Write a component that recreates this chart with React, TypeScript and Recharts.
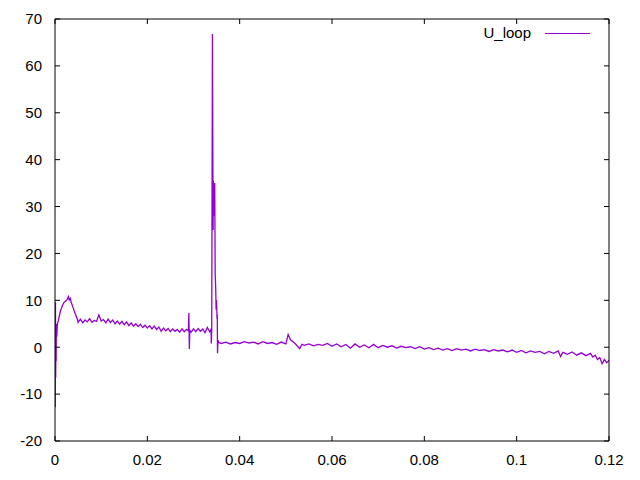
import { LineChart, Line, XAxis, YAxis } from "recharts";

// [time (s), U_loop]
const startSamples: [number, number][] = [
  [0, 4.2], [0.00005, -12.8], [0.0001, 9.6], [0.00015, -6.5], [0.0002, 2.5],
  [0.00025, -3], [0.0003, 5], [0.0004, 2.3], [0.0005, 4.8], [0.0007, 5.6],
  [0.0009, 6.5], [0.0012, 7.8], [0.0016, 8.9], [0.002, 9.6], [0.0024, 9.9],
  [0.0027, 10.3], [0.0029, 10.8], [0.0031, 10.1], [0.0033, 10.4], [0.0035, 9.6],
  [0.0039, 8.5], [0.0042, 7.6], [0.0046, 6.6], [0.0049, 5.8],
];

const plateauSamples: [number, number][] = [
  [0.005, 5.3], [0.0055, 6.0], [0.006, 5.2], [0.0065, 5.8], [0.007, 5.4],
  [0.0075, 6.1], [0.008, 5.3], [0.0085, 5.7], [0.009, 5.5], [0.0095, 6.9],
  [0.01, 5.6], [0.0105, 5.9], [0.011, 5.2], [0.0115, 6.0], [0.012, 5.3],
  [0.0125, 5.8], [0.013, 5.0], [0.0135, 5.6], [0.014, 4.9], [0.0145, 5.5],
  [0.015, 4.8], [0.0155, 5.4], [0.016, 4.6], [0.0165, 5.2], [0.017, 4.5],
  [0.0175, 5.0], [0.018, 4.4], [0.0185, 4.9], [0.019, 4.2], [0.0195, 4.7],
  [0.02, 4.1], [0.0205, 4.6], [0.021, 3.9], [0.0215, 4.5], [0.022, 3.8],
  [0.0225, 4.3], [0.023, 3.4], [0.0235, 4.1], [0.024, 3.5], [0.0245, 4.0],
  [0.025, 3.3], [0.0255, 3.9], [0.026, 3.4], [0.0265, 3.8], [0.027, 3.2],
  [0.0275, 3.9], [0.028, 3.3], [0.0285, 3.8], [0.0289, 3.5], [0.029, 7.3],
  [0.0291, -0.4], [0.0292, 3.6], [0.0295, 3.2], [0.03, 3.9], [0.0305, 3.3],
  [0.031, 4.0], [0.0315, 3.4], [0.032, 3.9], [0.0325, 3.1], [0.033, 4.2],
  [0.0335, 3.3], [0.0338, 3.8],
];

const spikeSamples: [number, number][] = [
  [0.03385, 0.8], [0.03395, 3.5], [0.0341, 66.8], [0.03425, 25], [0.0343, 35.5],
  [0.03445, 28], [0.0346, 35], [0.0347, 15.5], [0.0348, 13], [0.0349, 8],
  [0.035, 10], [0.0351, 6], [0.03515, 7], [0.0352, -1.3], [0.0353, 1.5],
  [0.0355, 1.0],
];

const tailSamples: [number, number][] = [
  [0.036, 0.8], [0.037, 1.1], [0.038, 0.7], [0.039, 1.0], [0.04, 0.8],
  [0.041, 1.2], [0.042, 0.9], [0.043, 1.1], [0.044, 0.7], [0.045, 1.2],
  [0.046, 0.8], [0.047, 1.0], [0.048, 0.6], [0.049, 1.1], [0.05, 0.7],
  [0.0505, 2.7], [0.051, 1.6], [0.052, 0.8], [0.053, -0.3], [0.0535, 0.6],
  [0.054, 0.4], [0.055, 0.7], [0.056, 0.3], [0.057, 0.6], [0.058, 0.4],
  [0.059, 0.8], [0.06, 0.2], [0.061, 0.7], [0.062, 0.1], [0.063, 0.6],
  [0.064, -0.2], [0.065, 0.7], [0.066, 0.0], [0.067, 0.5], [0.068, -0.1],
  [0.069, 0.6], [0.07, -0.1], [0.071, 0.4], [0.072, 0.0], [0.073, 0.3],
  [0.074, -0.2], [0.075, 0.2], [0.076, -0.1], [0.077, 0.1], [0.078, -0.3],
  [0.079, 0.1], [0.08, -0.4], [0.081, -0.1], [0.082, -0.5], [0.083, -0.2],
  [0.084, -0.6], [0.085, -0.3], [0.086, -0.7], [0.087, -0.3], [0.088, -0.6],
  [0.089, -0.4], [0.09, -0.8], [0.091, -0.4], [0.092, -0.7], [0.093, -0.5],
  [0.094, -0.9], [0.095, -0.5], [0.096, -0.8], [0.097, -0.6], [0.098, -1.0],
  [0.099, -0.6], [0.1, -1.1], [0.101, -0.7], [0.102, -1.2], [0.103, -0.8],
  [0.104, -1.1], [0.105, -0.9], [0.106, -1.4], [0.107, -0.9], [0.108, -1.3],
  [0.109, -0.8], [0.1095, -2.0], [0.11, -1.1], [0.111, -1.5], [0.112, -1.0],
  [0.113, -1.7], [0.114, -1.2], [0.115, -1.8], [0.116, -1.3], [0.1165, -2.1],
  [0.117, -1.7], [0.1175, -2.6], [0.118, -2.2], [0.1185, -3.5], [0.119, -2.6],
  [0.1195, -3.3], [0.12, -2.8],
];

const xTicks = [0, 0.02, 0.04, 0.06, 0.08, 0.1, 0.12];
const yTicks = [-20, -10, 0, 10, 20, 30, 40, 50, 60, 70];
const seriesName = "U_loop";
const lineColor = "#9400d3";

const data = [...startSamples, ...plateauSamples, ...spikeSamples, ...tailSamples].map(
  ([t, u]) => ({ t, u })
);

const font = "'Liberation Sans', Arial, sans-serif";
const noLabel = () => "";

export default function App() {
  return (
    <div
      style={{
        position: "absolute",
        left: 0,
        top: 0,
        width: 640,
        height: 480,
        background: "#fff",
        fontFamily: font,
      }}
    >
      <LineChart
        width={640}
        height={480}
        data={data}
        margin={{ top: 18, right: 30, left: 0, bottom: 0 }}
        style={{ fontFamily: font }}
      >
        <XAxis
          dataKey="t"
          type="number"
          domain={[0, 0.12]}
          ticks={xTicks}
          interval={0}
          height={39}
          tickSize={-5}
          tickMargin={18}
          stroke="#000"
          tick={{ fill: "#000", fontSize: 15 }}
          allowDataOverflow
        />
        <XAxis
          xAxisId="top"
          orientation="top"
          dataKey="t"
          type="number"
          domain={[0, 0.12]}
          ticks={xTicks}
          interval={0}
          height={1}
          tickSize={-5}
          tickFormatter={noLabel}
          stroke="#000"
          allowDataOverflow
        />
        <YAxis
          type="number"
          domain={[-20, 70]}
          ticks={yTicks}
          interval={0}
          width={55}
          tickSize={-5}
          tickMargin={18}
          stroke="#000"
          tick={{ fill: "#000", fontSize: 15 }}
          allowDataOverflow
        />
        <YAxis
          yAxisId="right"
          orientation="right"
          type="number"
          domain={[-20, 70]}
          ticks={yTicks}
          interval={0}
          width={1}
          tickSize={-5}
          tickFormatter={noLabel}
          stroke="#000"
          allowDataOverflow
        />
        <Line
          type="linear"
          dataKey="u"
          name={seriesName}
          stroke={lineColor}
          strokeWidth={1.3}
          dot={false}
          activeDot={false}
          isAnimationActive={false}
        />
        <Line
          xAxisId="top"
          yAxisId="right"
          type="linear"
          dataKey="u"
          stroke="none"
          dot={false}
          activeDot={false}
          legendType="none"
          isAnimationActive={false}
        />
      </LineChart>
      <div
        style={{
          position: "absolute",
          right: 109,
          top: 24,
          fontSize: 15,
          lineHeight: "18px",
          color: "#000",
          whiteSpace: "nowrap",
        }}
      >
        {seriesName}
      </div>
      <div
        style={{
          position: "absolute",
          left: 545,
          top: 33,
          width: 45,
          height: 1,
          background: lineColor,
        }}
      />
    </div>
  );
}
